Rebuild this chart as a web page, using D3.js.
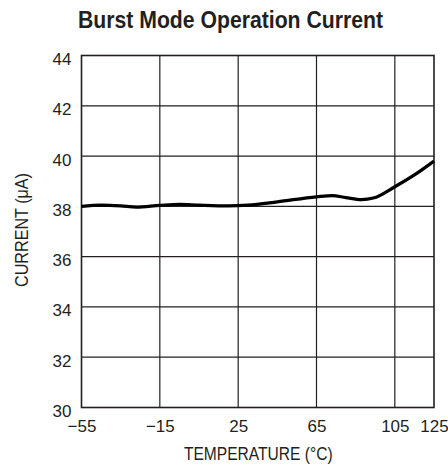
<!DOCTYPE html>
<html><head><meta charset="utf-8">
<script src="https://cdn.jsdelivr.net/npm/d3@7/dist/d3.min.js"></script>
<style>
body{margin:0;background:#fff;}
text{font-family:"Liberation Sans","Arial",sans-serif;fill:#231f20;}
</style></head><body>
<script>
const title = "Burst Mode Operation Current";
const xLabel = "TEMPERATURE (°C)";
const yLabel = "CURRENT (μA)";
const xTicks = [-55, -15, 25, 65, 105, 125];
const yTicks = [30, 32, 34, 36, 38, 40, 42, 44];
const temperature = [-55, -45, -35, -27, -15, -5, 5, 20, 30, 45, 65, 73, 80, 88, 94, 105, 115, 125];
const current = [38.0, 38.05, 38.02, 37.97, 38.04, 38.08, 38.05, 38.02, 38.05, 38.18, 38.38, 38.43, 38.35, 38.27, 38.33, 38.78, 39.25, 39.8];

const W = 448, H = 468;
const svg = d3.select("body").append("svg").attr("width", W).attr("height", H);
const pL = 81.5, pR = 434, pT = 55.5, pB = 407.5;
const x = d3.scaleLinear().domain([-55, 125]).range([pL, pR]);
const y = d3.scaleLinear().domain([30, 44]).range([pB, pT]);

// grid
const g = svg.append("g");
g.selectAll(".vg").data(xTicks.slice(1, -1)).enter().append("line")
  .attr("x1", d => x(d)).attr("x2", d => x(d)).attr("y1", pT).attr("y2", pB)
  .attr("stroke", "#231f20").attr("stroke-width", 1.2);
g.selectAll(".hg").data(yTicks.slice(1, -1)).enter().append("line")
  .attr("y1", d => y(d)).attr("y2", d => y(d)).attr("x1", pL).attr("x2", pR)
  .attr("stroke", "#231f20").attr("stroke-width", 1.2);
g.append("rect").attr("x", pL).attr("y", pT).attr("width", pR - pL).attr("height", pB - pT)
  .attr("fill", "none").attr("stroke", "#231f20").attr("stroke-width", 1.6);

// curve
const pts = temperature.map((t, i) => [t, current[i]]);
svg.append("path").datum(pts)
  .attr("d", d3.line().x(d => x(d[0])).y(d => y(d[1])).curve(d3.curveMonotoneX))
  .attr("fill", "none").attr("stroke", "#000").attr("stroke-width", 3.2).attr("stroke-linejoin", "round");

// axes labels
const yAxis = d3.axisLeft(y).tickValues(yTicks).tickSize(0).tickPadding(10).tickFormat(d3.format("d"));
const ya = svg.append("g").attr("transform", `translate(${pL},0)`).call(yAxis);
ya.select(".domain").remove();
ya.selectAll("text").attr("font-size", 17).attr("dy", "0.53em").style("font-family", null);

const fmt = d => d < 0 ? "\u2212" + Math.abs(d) : String(d);
const xAxis = d3.axisBottom(x).tickValues(xTicks).tickSize(0).tickPadding(12).tickFormat(fmt);
const xa = svg.append("g").attr("transform", `translate(0,${pB})`).call(xAxis);
xa.select(".domain").remove();
xa.selectAll("text").attr("font-size", 17).style("font-family", null);

svg.append("text").attr("x", 230.5).attr("y", 28.3).attr("text-anchor", "middle")
  .attr("font-size", 23).attr("font-weight", "bold")
  .attr("textLength", 305).attr("lengthAdjust", "spacingAndGlyphs").text(title);
svg.append("text").attr("x", 258.3).attr("y", 460).attr("text-anchor", "middle")
  .attr("font-size", 17.5).attr("textLength", 148.7).attr("lengthAdjust", "spacingAndGlyphs").text(xLabel);
svg.append("text").attr("transform", `translate(28.3,230) rotate(-90)`)
  .attr("text-anchor", "middle").attr("font-size", 17.5)
  .attr("textLength", 114).attr("lengthAdjust", "spacingAndGlyphs").text(yLabel);
</script></body></html>
